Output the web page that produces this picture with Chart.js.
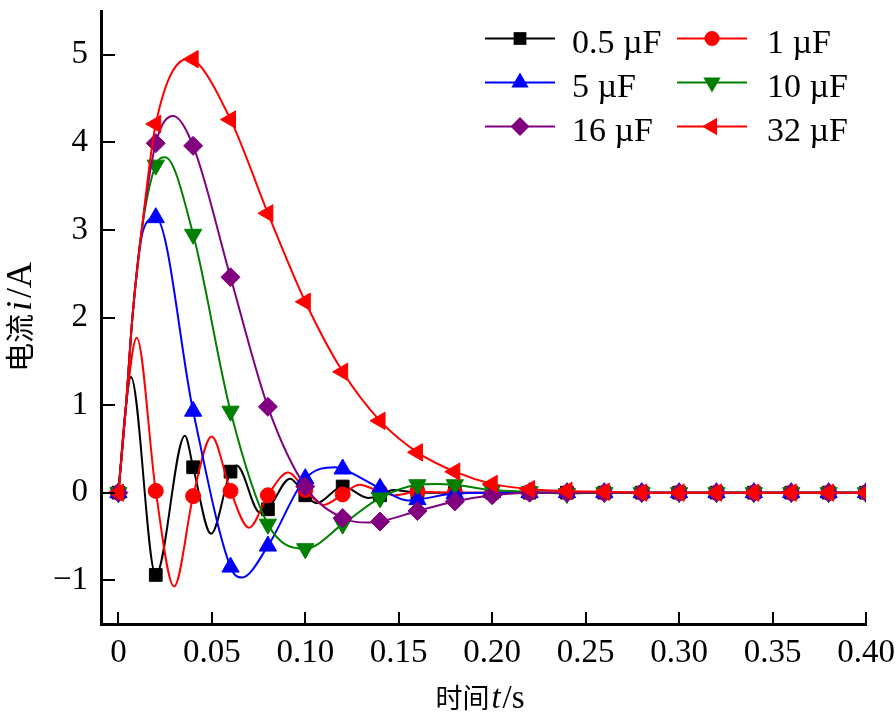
<!DOCTYPE html>
<html>
<head>
<meta charset="utf-8">
<script src="https://cdn.jsdelivr.net/npm/chart.js@4.4.1/dist/chart.umd.min.js"></script>
<style>
  html, body { margin: 0; padding: 0; background: #fff; }
  #wrap { width: 896px; height: 714px; position: relative; }
</style>
</head>
<body>
<div id="wrap"><canvas id="chart"></canvas></div>
<script>
// series labels and colours
const seriesNames = ["0.5 µF", "1 µF", "5 µF", "10 µF", "16 µF", "32 µF"];
const seriesColors = ["#000000", "#ff0000", "#0000ff", "#008000", "#800080", "#ff0000"];

// current i (A) versus time t (s);
// markers sit on the samples at every 0.02 s
const tail = [0.22, 0.24, 0.26, 0.28, 0.30, 0.32, 0.34, 0.36, 0.38, 0.40];

const t05 = [0, 0.0041, 0.0067, 0.02, 0.0356, 0.04, 0.0496, 0.06, 0.0633, 0.0758, 0.08, 0.0919, 0.10, 0.1061, 0.12, 0.1337, 0.14, 0.147, 0.16, 0.18, 0.20, ...tail];
const i05 = [0, 1.0, 1.32, -0.94, 0.65, 0.29, -0.47, 0.24, 0.31, -0.23, -0.19, 0.16, -0.03, -0.12, 0.07, -0.06, -0.03, 0.03, 0, 0, 0, 0, 0, 0, 0, 0, 0, 0, 0, 0, 0];

const t1 = [0, 0.0041, 0.0098, 0.02, 0.0298, 0.04, 0.0499, 0.06, 0.0699, 0.08, 0.0909, 0.10, 0.1097, 0.12, 0.129, 0.14, 0.148, 0.16, 0.18, 0.20, ...tail];
const i1 = [0, 1.0, 1.77, 0.02, -1.07, -0.04, 0.64, 0.02, -0.40, -0.03, 0.23, 0.03, -0.14, -0.02, 0.09, 0.01, -0.03, 0.01, 0, 0, 0, 0, 0, 0, 0, 0, 0, 0, 0, 0];

const t5 = [0, 0.0041, 0.0075, 0.0133, 0.02, 0.04, 0.06, 0.066, 0.08, 0.10, 0.116, 0.12, 0.14, 0.155, 0.16, 0.18, 0.20, ...tail];
const i5 = [0, 1.0, 2.0, 3.0, 3.14, 0.93, -0.85, -0.97, -0.61, 0.16, 0.29, 0.27, 0.05, -0.09, -0.08, -0.01, 0, 0, 0, 0, 0, 0, 0, 0, 0, 0, 0];

const t10 = [0, 0.0041, 0.0075, 0.0125, 0.02, 0.025, 0.04, 0.06, 0.08, 0.10, 0.12, 0.14, 0.16, 0.17, 0.18, 0.20, ...tail];
const i10 = [0, 1.0, 2.0, 3.0, 3.74, 3.83, 2.95, 0.93, -0.36, -0.64, -0.36, -0.06, 0.09, 0.10, 0.09, 0.03, 0.01, -0.01, 0, 0, 0, 0, 0, 0, 0, 0];

const t16 = [0, 0.0041, 0.0075, 0.0125, 0.02, 0.0294, 0.04, 0.06, 0.08, 0.10, 0.12, 0.134, 0.14, 0.16, 0.18, 0.20, ...tail];
const i16 = [0, 1.0, 2.0, 3.0, 3.99, 4.30, 3.96, 2.46, 0.98, 0.07, -0.29, -0.34, -0.33, -0.21, -0.10, -0.03, 0, 0, 0, 0, 0, 0, 0, 0, 0, 0];

const t32 = [0, 0.0041, 0.0075, 0.0125, 0.02, 0.038, 0.04, 0.06, 0.08, 0.10, 0.12, 0.14, 0.16, 0.18, 0.20, ...tail];
const i32 = [0, 1.0, 2.0, 3.0, 4.21, 4.96, 4.95, 4.26, 3.19, 2.18, 1.38, 0.82, 0.46, 0.24, 0.10, 0.04, 0.02, 0.01, 0, 0, 0, 0, 0, 0, 0];

const xTickValues = [0, 0.05, 0.10, 0.15, 0.20, 0.25, 0.30, 0.35, 0.40];
const xTickLabels = ["0", "0.05", "0.10", "0.15", "0.20", "0.25", "0.30", "0.35", "0.40"];
const yTickValues = [-1, 0, 1, 2, 3, 4, 5];
const yTickLabels = ["\u22121", "0", "1", "2", "3", "4", "5"];

const times = [t05, t1, t5, t10, t16, t32];
const currents = [i05, i1, i5, i10, i16, i32];
const markers = [
  { style: "rect", radius: 9, rotation: 0 },
  { style: "circle", radius: 7.5, rotation: 0 },
  { style: "triangle", radius: 10, rotation: 0 },
  { style: "triangle", radius: 10, rotation: 180 },
  { style: "rectRot", radius: 9.5, rotation: 0 },
  { style: "triangle", radius: 10, rotation: 270 },
];

const serif = "'Liberation Serif', 'Times New Roman', serif";
const cjk = "'Noto Sans CJK SC', sans-serif";

const onMark = t => Math.abs(t * 50 - Math.round(t * 50)) < 1e-6;

const datasets = seriesNames.map((name, k) => ({
  label: name,
  data: times[k].map((t, j) => ({ x: t, y: currents[k][j] })),
  borderColor: seriesColors[k],
  backgroundColor: seriesColors[k],
  pointBackgroundColor: seriesColors[k],
  pointBorderColor: seriesColors[k],
  pointBorderWidth: 1,
  borderWidth: 2,
  cubicInterpolationMode: "monotone",
  pointStyle: markers[k].style,
  rotation: markers[k].rotation,
  pointRadius: c => (onMark(c.raw.x) ? markers[k].radius : 0),
  pointHoverRadius: c => (onMark(c.raw.x) ? markers[k].radius : 0),
  order: seriesNames.length - 1 - k,
}));

function drawMarker(ctx, m, x, y, color) {
  const r = m.radius;
  ctx.fillStyle = color;
  ctx.beginPath();
  if (m.style === "rect") {
    const s = r * Math.SQRT1_2;
    ctx.rect(x - s, y - s, 2 * s, 2 * s);
  } else if (m.style === "circle") {
    ctx.arc(x, y, r, 0, Math.PI * 2);
  } else if (m.style === "rectRot") {
    ctx.moveTo(x - r, y); ctx.lineTo(x, y - r); ctx.lineTo(x + r, y); ctx.lineTo(x, y + r);
  } else {
    let a = m.rotation * Math.PI / 180;
    for (let i = 0; i < 3; i++) {
      const px = x + Math.sin(a) * r, py = y - Math.cos(a) * r;
      i ? ctx.lineTo(px, py) : ctx.moveTo(px, py);
      a += Math.PI * 2 / 3;
    }
  }
  ctx.closePath();
  ctx.fill();
}

function drawRich(ctx, parts, cx, baseline) {
  let total = 0;
  parts.forEach(p => { ctx.font = p.font; p.w = ctx.measureText(p.text).width; total += p.w + (p.gap || 0); });
  let x = cx - total / 2;
  ctx.textAlign = "left";
  ctx.textBaseline = "alphabetic";
  parts.forEach(p => { ctx.font = p.font; ctx.fillText(p.text, x, baseline); x += p.w + (p.gap || 0); });
}

const decorations = {
  id: "decorations",
  afterDraw(chart) {
    const { ctx, chartArea: a, scales: { x, y } } = chart;
    ctx.save();
    ctx.strokeStyle = "#000";
    ctx.lineWidth = 2;
    // inward tick marks
    xTickValues.forEach(v => {
      const px = Math.round(x.getPixelForValue(v));
      ctx.beginPath(); ctx.moveTo(px, a.bottom); ctx.lineTo(px, a.bottom - 12); ctx.stroke();
    });
    yTickValues.forEach(v => {
      const py = Math.round(y.getPixelForValue(v));
      ctx.beginPath(); ctx.moveTo(a.left, py); ctx.lineTo(a.left + 14, py); ctx.stroke();
    });

    // axis titles
    ctx.fillStyle = "#000";
    drawRich(ctx, [
      { text: "时间", font: `27px ${cjk}`, gap: 2 },
      { text: "t", font: `italic 33px ${serif}`, gap: 2 },
      { text: "/s", font: `33px ${serif}` },
    ], 480, 708);
    ctx.save();
    ctx.translate(33, 317);
    ctx.rotate(-Math.PI / 2);
    drawRich(ctx, [
      { text: "电流", font: `29px ${cjk}`, gap: 3 },
      { text: "i", font: `italic 36px ${serif}`, gap: 3 },
      { text: "/A", font: `36px ${serif}` },
    ], 0, -2);
    ctx.restore();

    // legend, two columns
    const colLine = [485, 677], colText = [572, 767], rowY = [38.5, 82.5, 126.5];
    seriesNames.forEach((name, k) => {
      const col = k % 2, row = Math.floor(k / 2);
      const lx = colLine[col], ly = rowY[row];
      ctx.strokeStyle = seriesColors[k];
      ctx.lineWidth = 2;
      ctx.beginPath(); ctx.moveTo(lx, ly); ctx.lineTo(lx + 70, ly); ctx.stroke();
      drawMarker(ctx, markers[k], lx + 35, ly, seriesColors[k]);
      ctx.fillStyle = "#000";
      ctx.font = `34px ${serif}`;
      ctx.textAlign = "left";
      ctx.textBaseline = "alphabetic";
      ctx.fillText(name, colText[col], ly + 14.5);
    });
    ctx.restore();
  },
};

new Chart(document.getElementById("chart"), {
  type: "line",
  data: { datasets },
  options: {
    responsive: true,
    maintainAspectRatio: false,
    animation: false,
    events: [],
    layout: { padding: { left: 0, right: 30, top: 4, bottom: 0 } },
    plugins: { legend: { display: false }, tooltip: { enabled: false } },
    scales: {
      x: {
        type: "linear",
        min: -0.0093,
        max: 0.40,
        afterBuildTicks: s => { s.ticks = xTickValues.map(v => ({ value: v })); },
        afterFit: s => { s.height = 90; s.paddingLeft = 0; s.paddingRight = 0; },
        grid: { display: false, drawTicks: false },
        border: { display: true, color: "#000", width: 3 },
        ticks: {
          autoSkip: false,
          maxRotation: 0,
          padding: 10,
          color: "#000",
          font: { family: serif, size: 33 },
          callback: (v, i) => xTickLabels[i],
        },
      },
      y: {
        type: "linear",
        min: -1.5,
        max: 5.5,
        afterBuildTicks: s => { s.ticks = yTickValues.map(v => ({ value: v })); },
        afterFit: s => { s.width = 101; s.paddingTop = 0; s.paddingBottom = 0; },
        grid: { display: false, drawTicks: false },
        border: { display: true, color: "#000", width: 3 },
        ticks: {
          padding: 13,
          color: "#000",
          font: { family: serif, size: 33 },
          callback: (v, i) => yTickLabels[i],
        },
      },
    },
  },
  plugins: [decorations],
});
</script>
</body>
</html>
